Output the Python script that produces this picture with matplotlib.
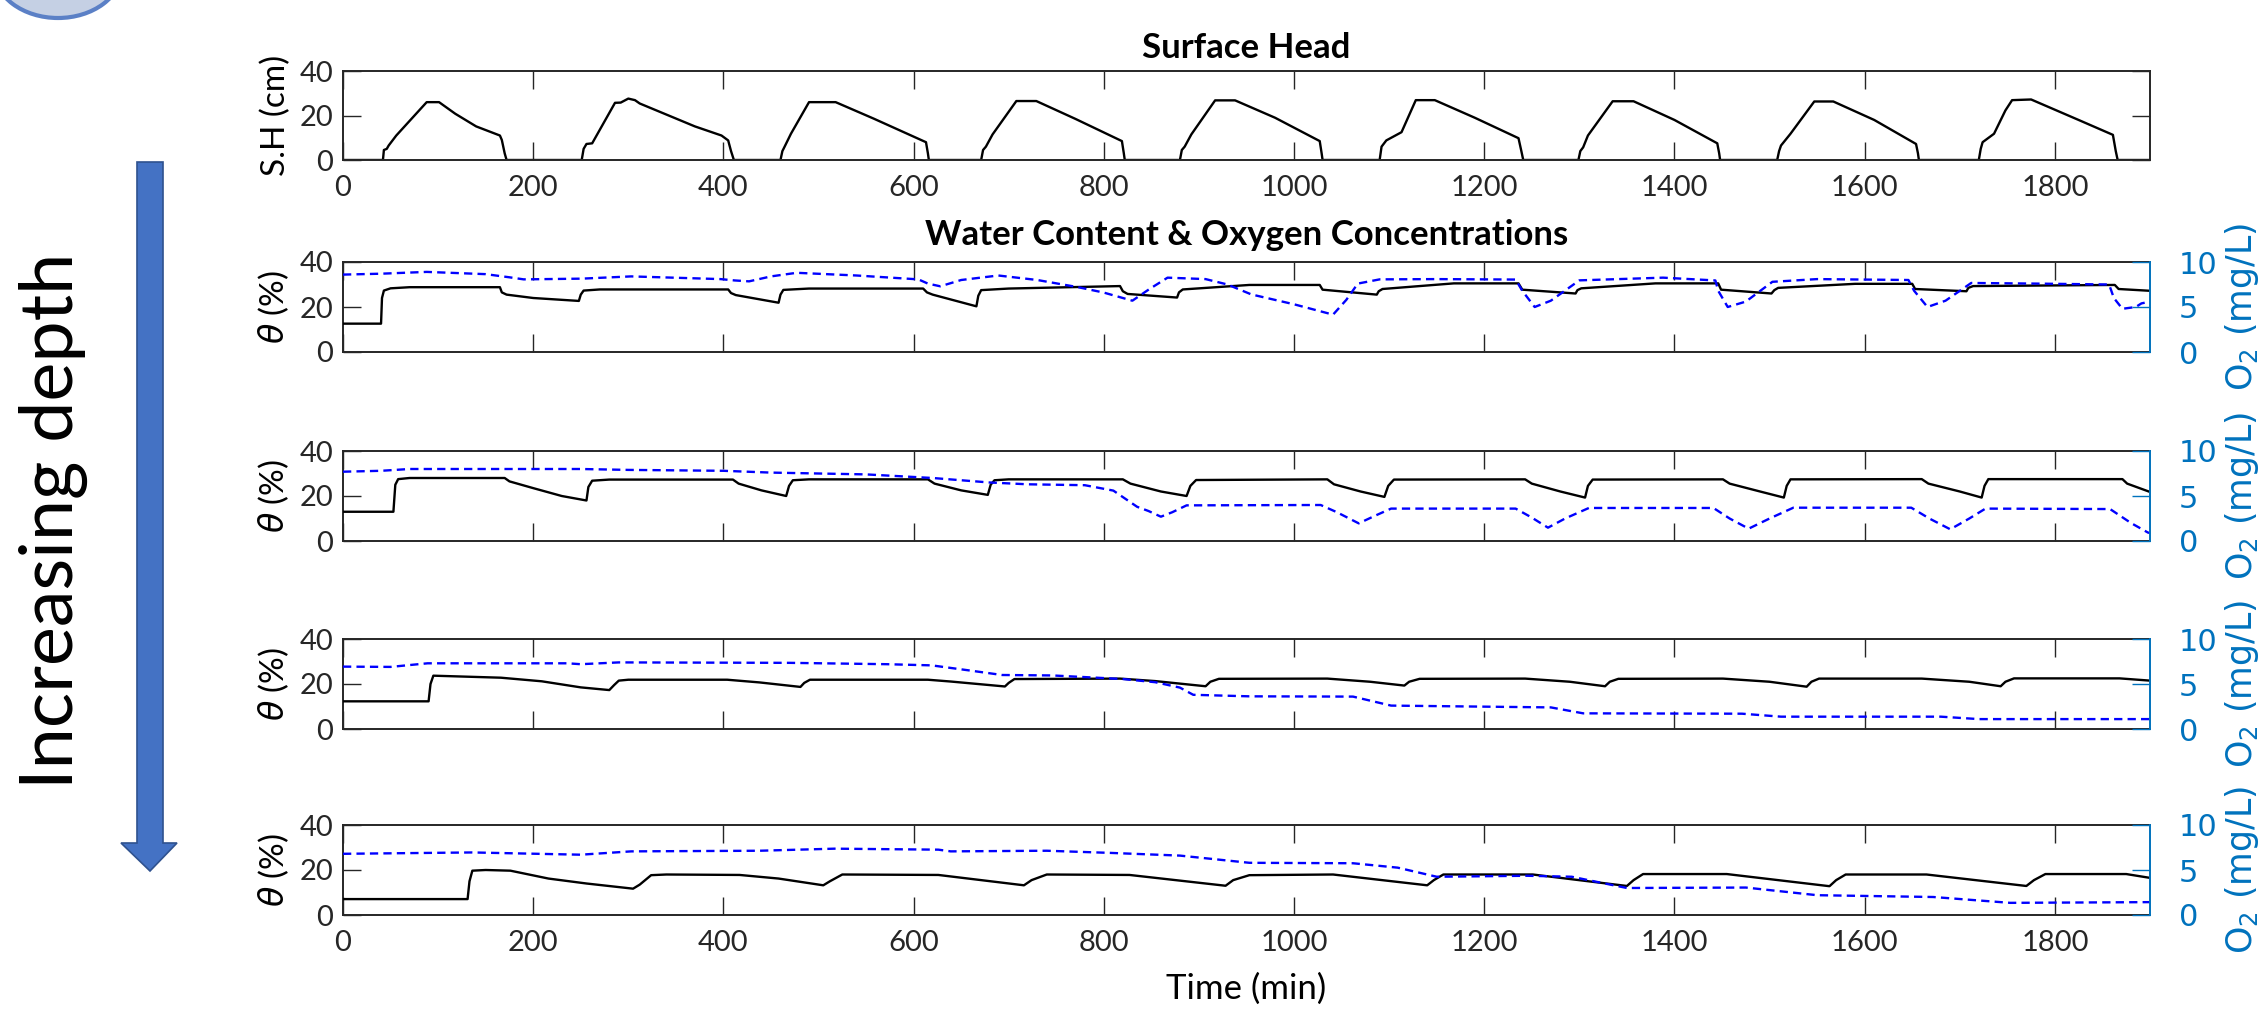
import matplotlib
matplotlib.use("Agg")
import matplotlib.pyplot as plt
import matplotlib.transforms as mtransforms
from matplotlib.patches import Polygon, Ellipse

# ---- data (time in min) ----
# surface head, cm
sh_time = [0, 42, 43, 46, 48, 56, 88, 101, 118, 140, 165, 167, 170, 172,
           251, 253, 256, 262, 286, 292, 300, 307, 312, 370, 398, 405, 408, 411,
           460, 462, 464, 471, 490, 518, 558, 613, 615, 616,
           671, 673, 676, 683, 708, 729, 770, 819, 821, 822,
           880, 882, 885, 892, 917, 938, 980, 1027, 1029, 1030,
           1090, 1092, 1097, 1113, 1128, 1148, 1190, 1236, 1239, 1241,
           1299, 1301, 1304, 1309, 1335, 1357, 1400, 1445, 1447, 1448,
           1508, 1510, 1512, 1522, 1547, 1567, 1610, 1654, 1656, 1657,
           1720, 1722, 1724, 1736, 1748, 1755, 1775, 1826, 1861, 1864, 1866, 1900]
sh_head = [0, 0, 4.5, 5, 6.5, 11, 26, 26, 20.8, 15.1, 11, 9, 3, 0,
           0, 5, 7.2, 7.5, 25.7, 25.8, 27.6, 26.9, 25.4, 15.1, 11, 8.8, 4, 0,
           0, 4, 5.7, 11.8, 26, 26, 18.6, 8, 3, 0,
           0, 4.5, 6, 11.5, 26.5, 26.5, 18.5, 8.5, 3, 0,
           0, 4.5, 6, 11.5, 26.8, 26.8, 19, 8.5, 3, 0,
           0, 6, 8.8, 12.5, 26.9, 26.9, 19, 9.8, 4, 0,
           0, 4, 5.7, 11, 26.4, 26.4, 18, 7.5, 3, 0,
           0, 4, 6.5, 11.8, 26.3, 26.3, 18, 7.2, 3, 0,
           0, 5, 8, 11.8, 22.3, 26.9, 27.2, 17.8, 11.3, 4, 0, 0]

# water content (%) and O2 (mg/L), shallowest to deepest sensor
l1_time = [0, 40, 41, 43, 50, 70, 165, 167, 172, 200, 248, 250, 253, 270, 405, 408, 413, 458,
           460, 463, 490, 610, 614, 620, 666, 668, 671, 700, 817, 820, 825, 877, 879, 883,
           953, 1027, 1030, 1087, 1089, 1093, 1168, 1236, 1240, 1296, 1298, 1302, 1380,
           1446, 1449, 1502, 1505, 1509, 1590, 1650, 1653, 1707, 1709, 1714, 1863, 1867, 1900]
l1_theta = [12.6, 12.6, 24, 27.3, 28.3, 28.8, 28.8, 26.5, 25.5, 24, 22.7, 25.5, 27.3, 27.8,
            27.8, 26.2, 25.3, 21.9, 25.5, 27.6, 28.2, 28.2, 26.5, 25.5, 20.3, 25, 27.5, 28.2,
            29.3, 27, 25.8, 24.2, 26.5, 27.8, 29.8, 29.8, 27.7, 25.5, 27, 28, 30.5, 30.5,
            27.7, 26, 27.5, 28.3, 30.5, 30.5, 27.7, 26, 27.5, 28.5, 30.3, 30.3, 28, 27, 28.5,
            29.3, 29.8, 28, 27.2]
l1_o2_time = [0, 40, 88, 150, 175, 190, 251, 303, 397, 412, 427, 450, 477, 540, 605, 615,
              628, 650, 689, 730, 773, 800, 830, 848, 867, 907, 930, 955, 1000, 1041, 1055,
              1067, 1090, 1150, 1233, 1240, 1253, 1270, 1300, 1388, 1443, 1446, 1456, 1475,
              1503, 1550, 1646, 1652, 1666, 1685, 1712, 1780, 1857, 1862, 1871, 1885, 1891, 1900]
l1_o2 = [8.6, 8.7, 8.9, 8.65, 8.3, 8.07, 8.15, 8.4, 8.1, 7.95, 7.85, 8.4, 8.8, 8.5, 8.07,
         7.6, 7.3, 8.0, 8.5, 8.0, 7.2, 6.6, 5.7, 7.0, 8.26, 8.1, 7.5, 6.4, 5.3, 4.15, 5.8,
         7.6, 8.07, 8.1, 8.05, 6.8, 5.0, 5.7, 7.96, 8.26, 7.95, 6.8, 5.0, 5.6, 7.8, 8.1, 8.0,
         6.8, 5.0, 5.7, 7.67, 7.6, 7.5, 6.0, 4.8, 5.0, 5.4, 5.6]

l2_time = [0, 53, 55, 58, 70, 170, 175, 200, 230, 256, 258, 262, 280, 410, 416, 440, 466,
           469, 473, 490, 615, 622, 650, 678, 681, 685, 700, 820, 828, 860, 887, 891, 897,
           1035, 1042, 1070, 1095, 1099, 1105, 1243, 1250, 1280, 1306, 1309, 1314, 1451,
           1458, 1490, 1515, 1518, 1522, 1660, 1667, 1700, 1723, 1726, 1730, 1871, 1876, 1900]
l2_theta = [13, 13, 25, 27.5, 28, 28, 26.5, 23.5, 20, 18, 24, 26.8, 27.3, 27.3, 25.5, 22.5,
            20, 24.5, 27, 27.4, 27.4, 25.5, 22.5, 20.5, 25, 27, 27.4, 27.4, 25.5, 22, 20,
            24.5, 27.1, 27.4, 25.2, 22, 19.6, 24.5, 27.3, 27.4, 25.5, 22, 19.3, 24.5, 27.3,
            27.4, 25.5, 22, 19.3, 24.5, 27.4, 27.5, 25.5, 22, 19.3, 24.5, 27.5, 27.5, 25.5, 21.8]
l2_o2_time = [0, 40, 70, 250, 300, 400, 450, 550, 620, 680, 720, 780, 810, 835, 847, 860,
              872, 887, 1028, 1045, 1068, 1085, 1102, 1233, 1250, 1267, 1285, 1310, 1441,
              1458, 1478, 1500, 1525, 1649, 1668, 1690, 1710, 1727, 1858, 1880, 1898, 1900]
l2_o2 = [7.7, 7.8, 8.0, 8.0, 7.9, 7.8, 7.6, 7.4, 7.0, 6.5, 6.3, 6.2, 5.6, 3.8, 3.33, 2.7,
         3.2, 3.96, 4.0, 3.2, 1.96, 2.8, 3.6, 3.6, 2.6, 1.48, 2.5, 3.67, 3.67, 2.5, 1.37,
         2.5, 3.7, 3.7, 2.5, 1.3, 2.5, 3.6, 3.55, 2.0, 0.93, 0.9]

l3_time = [0, 90, 92, 95, 166, 209, 250, 280, 285, 290, 300, 404, 438, 481, 485, 491, 615,
           639, 696, 700, 706, 817, 854, 907, 912, 921, 1035, 1080, 1116, 1121, 1132, 1243,
           1290, 1327, 1332, 1341, 1451, 1500, 1539, 1544, 1552, 1660, 1710, 1743, 1748,
           1757, 1868, 1900]
l3_theta = [12.3, 12.3, 20, 23.7, 22.8, 21.2, 18.5, 17.3, 19.5, 21.5, 21.9, 21.9, 20.7,
            18.7, 20.5, 21.9, 21.9, 21.1, 18.9, 20.5, 22.2, 22.4, 21.3, 19.0, 21, 22.3,
            22.4, 21, 19.3, 21, 22.3, 22.4, 21, 19, 21, 22.3, 22.4, 21, 18.8, 21, 22.4,
            22.4, 21, 19, 21, 22.5, 22.5, 21.5]
l3_o2_time = [0, 50, 89, 236, 250, 290, 470, 572, 619, 659, 693, 746, 820, 854, 880, 894,
              953, 1062, 1102, 1270, 1304, 1471, 1512, 1680, 1720, 1900]
l3_o2 = [6.93, 6.9, 7.3, 7.3, 7.2, 7.4, 7.35, 7.2, 7.07, 6.5, 6.0, 5.95, 5.55, 5.2, 4.6,
         3.8, 3.63, 3.6, 2.6, 2.4, 1.74, 1.7, 1.37, 1.37, 1.1, 1.1]

l4_time = [0, 131, 133, 136, 150, 176, 216, 256, 305, 312, 324, 340, 417, 458, 505, 512,
           525, 626, 716, 724, 740, 827, 928, 936, 953, 1041, 1140, 1147, 1157, 1251, 1350,
           1357, 1367, 1455, 1563, 1570, 1580, 1665, 1770, 1778, 1790, 1875, 1900]
l4_theta = [7.07, 7.07, 15, 19.7, 20, 19.7, 16.2, 14, 11.7, 13.5, 17.7, 18, 17.8, 16.2,
            13.2, 15, 18, 17.8, 13.2, 15.5, 18, 17.8, 13.0, 15.5, 17.7, 18, 13.2, 15.5, 18,
            18, 12.9, 15.5, 18.2, 18.2, 12.8, 15.5, 18, 18, 12.9, 15.5, 18.2, 18.2, 16.5]
l4_o2_time = [0, 136, 250, 303, 438, 517, 626, 639, 740, 807, 880, 953, 1062, 1109, 1150,
              1245, 1292, 1350, 1475, 1550, 1672, 1753, 1900]
l4_o2 = [6.8, 6.95, 6.7, 7.07, 7.14, 7.37, 7.26, 7.07, 7.14, 6.9, 6.6, 5.8, 5.75, 5.26,
         4.25, 4.36, 4.25, 3.0, 3.05, 2.2, 2.0, 1.35, 1.43]

layers = [(l1_time, l1_theta, l1_o2_time, l1_o2),
          (l2_time, l2_theta, l2_o2_time, l2_o2),
          (l3_time, l3_theta, l3_o2_time, l3_o2),
          (l4_time, l4_theta, l4_o2_time, l4_o2)]
x_ticks = list(range(0, 1801, 200))

# ---- styling ----
plt.rcParams['font.family'] = ['Lato', 'DejaVu Sans']
plt.rcParams['mathtext.fontset'] = 'dejavusans'
INK = '#262626'
AXBLUE = '#0072BD'
TICK_FS = 21
LABEL_FS = 24
RIGHT_FS = 22

W, H = 2262, 1019
fig = plt.figure(figsize=(W / 100, H / 100), dpi=100)
pix = mtransforms.Affine2D().scale(1 / W, -1 / H).translate(0, 1) + fig.transFigure


def rect(top, bottom):
    return [343 / W, 1 - bottom / H, (2150 - 343) / W, (bottom - top) / H]


def style(ax, show_x):
    ax.set_xlim(0, 1900)
    ax.set_xticks(x_ticks)
    for s in ax.spines.values():
        s.set_linewidth(1.4)
        s.set_color(INK)
    ax.tick_params(axis='x', direction='in', top=True, length=13, width=1.0,
                   colors=INK, labelsize=TICK_FS, pad=11, labelbottom=show_x)
    ax.tick_params(axis='y', direction='in', length=13, width=1.0,
                   colors=INK, labelsize=TICK_FS, pad=7)


# surface head panel
ax0 = fig.add_axes(rect(71, 160))
ax0.plot(sh_time, sh_head, color='black', lw=1.7)
style(ax0, True)
ax0.tick_params(axis='y', right=True)
ax0.set_ylim(0, 40)
ax0.set_yticks([0, 20, 40])
ax0.set_ylabel('S.H (cm)', fontsize=LABEL_FS, labelpad=6)
ax0.set_title('Surface Head', fontsize=25, fontweight='bold', pad=9)

panel_tops = [262, 451, 639, 825]
for i, (t, th, t2, o2) in enumerate(layers):
    top = panel_tops[i]
    ax = fig.add_axes(rect(top, top + 90))
    ax.plot(t, th, color='black', lw=1.7, zorder=3)
    style(ax, i == len(layers) - 1)
    ax.set_ylim(0, 40)
    ax.set_yticks([0, 20, 40])
    ax.set_ylabel(r'$\theta$ (%)', fontsize=LABEL_FS, labelpad=6)
    ax.spines['right'].set_visible(False)

    ax2 = ax.twinx()
    ax2.plot(t2, o2, color='blue', lw=1.7, ls=(0, (3.5, 2.2)))
    ax2.set_xlim(0, 1900)
    ax2.set_ylim(0, 10)
    ax2.set_yticks([0, 5, 10])
    for name, s in ax2.spines.items():
        s.set_visible(name == 'right')
    ax2.spines['right'].set_color(AXBLUE)
    ax2.spines['right'].set_linewidth(1.4)
    ax2.tick_params(axis='y', direction='in', length=13, width=1.0, colors=AXBLUE,
                    labelsize=RIGHT_FS, pad=21)
    for lab in ax2.get_yticklabels():
        lab.set_family('DejaVu Sans')
    ax2.set_ylabel(r'O$_2$ (mg/L)', fontsize=25, color=AXBLUE, labelpad=4,
                   family='DejaVu Sans')
    if i == 0:
        ax.set_title('Water Content & Oxygen Concentrations', fontsize=25,
                     fontweight='bold', pad=12)
    if i == len(layers) - 1:
        ax.set_xlabel('Time (min)', fontsize=25, labelpad=12)

# depth arrow, label and the cut-off button in the top-left corner
fig.add_artist(Polygon([(137, 162), (163, 162), (163, 843), (177, 843), (150, 871),
                        (121, 843), (137, 843)], closed=True, transform=pix,
                       facecolor='#4472C4', edgecolor='#2F528F', lw=1.2))
fig.text(53, 521, 'Increasing depth', transform=pix, rotation=90, ha='center',
         va='center', fontsize=53, fontweight='normal', color='black')
fig.add_artist(Ellipse((58, -30), 128, 96, transform=pix, facecolor='#c5d0e4',
                       edgecolor='#5b80c6', lw=3))

fig.savefig('out.png', dpi=100)
